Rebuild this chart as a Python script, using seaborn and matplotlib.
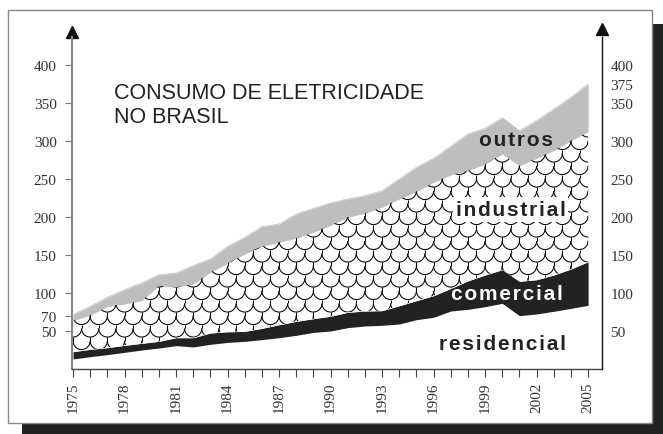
import numpy as np
import pandas as pd
import matplotlib
matplotlib.use("Agg")
import matplotlib.pyplot as plt
import seaborn as sns
from matplotlib.collections import LineCollection
from matplotlib.patches import Rectangle

# Consumo de eletricidade no Brasil (TWh)
anos = list(range(1975, 2006))
residencial = [13.2, 16.2, 18.9, 21.9, 25.0, 27.6, 30.7, 29.0, 32.5, 35.0,
               36.4, 38.6, 41.2, 44.3, 48.2, 50.0, 54.4, 56.6, 57.5, 59.2,
               64.9, 68.0, 76.3, 78.5, 82.0, 86.4, 70.2, 72.4, 75.9, 79.8, 83.8]
comercial = [9.6, 9.7, 9.2, 9.2, 8.8, 8.8, 10.5, 12.2, 14.9, 14.0,
             13.1, 14.9, 17.1, 18.4, 18.0, 19.5, 20.2, 19.7, 19.3, 24.1,
             25.0, 28.5, 29.7, 37.5, 41.7, 44.3, 45.2, 45.1, 47.8, 51.8, 57.4]
industrial = [40.8, 45.1, 53.9, 54.4, 56.1, 73.2, 66.3, 70.6, 79.8, 90.0,
              101.8, 107.9, 108.4, 109.3, 113.6, 119.5, 125.0, 128.7, 135.9, 140.4,
              143.4, 149.1, 149.3, 145.0, 146.0, 152.2, 152.1, 159.7, 163.6, 168.8, 171.1]
outros = [7.9, 11.5, 12.3, 18.9, 23.3, 14.5, 18.8, 24.2, 17.5, 22.4,
          21.9, 25.9, 24.1, 31.9, 31.6, 29.5, 24.1, 23.0, 21.9, 26.3,
          32.1, 31.6, 37.7, 48.2, 47.0, 47.8, 46.1, 49.6, 54.7, 57.1, 62.7]

ticks_esq = [50, 70, 100, 150, 200, 250, 300, 350, 400]
ticks_dir = [50, 100, 150, 200, 250, 300, 350, 375, 400]
anos_rotulo = list(range(1975, 2006, 3))

df = pd.DataFrame({"ano": anos, "residencial": residencial, "comercial": comercial,
                   "industrial": industrial, "outros": outros})
df["c1"] = df["residencial"]
df["c2"] = df["c1"] + df["comercial"]
df["c3"] = df["c2"] + df["industrial"]
df["c4"] = df["c3"] + df["outros"]

sns.set_theme(style="white")
plt.rcParams["font.family"] = ["Liberation Serif", "DejaVu Serif"]

preto = "#222222"
cinza = "#bebebe"

fig = plt.figure(figsize=(6.63, 4.35), dpi=100)
fig.patch.set_facecolor("white")
# sombra e moldura
fig.patches.append(Rectangle((22 / 663, 0), 1, 1 - 25 / 435, transform=fig.transFigure,
                             facecolor=preto, edgecolor="none", zorder=-3))
fig.patches.append(Rectangle((8 / 663, 11 / 435), 644 / 663, 413 / 435, transform=fig.transFigure,
                             facecolor="white", edgecolor="#888888", lw=1.0, zorder=-2))

ax = fig.add_axes([72 / 663, 1 - 370 / 435, 530 / 663, 332 / 435])
ax.patch.set_alpha(0)

ax.fill_between(df["ano"], df["c1"], df["c2"], facecolor=preto, lw=0, zorder=1)
poly = ax.fill_between(df["ano"], df["c2"], df["c3"], facecolor="white", lw=0, zorder=1)
ax.fill_between(df["ano"], df["c3"], df["c4"], facecolor=cinza, lw=0, zorder=1)
sns.lineplot(x=df["ano"], y=df["c4"], color=cinza, lw=0.5, ax=ax, zorder=1)

# padrao de escamas na area industrial
ry = 8.6 / 0.76
h = 12.5 / 0.76
t = np.linspace(0, np.pi, 24)
segs = []
for k in range(0, 24):
    yk = 4 + k * h
    off = 0.5 * (k % 2)
    for j in range(-2, 34):
        cx = 1974 + off + j + 0.5
        segs.append(np.column_stack([cx + 0.5 * np.cos(t), yk - ry * np.sin(t)]))
        xs = 1974 + off + j
        segs.append(np.array([[xs, yk], [xs, yk + h - ry]]))
lc = LineCollection(segs, colors="black", linewidths=0.75, zorder=2)
ax.add_collection(lc)
lc.set_clip_path(poly.get_paths()[0], poly.get_transform())

ax.set_xlim(1975 - 1 / 17.17, 1975 + 529 / 17.17)
ax.set_ylim(0, 332 / 0.76)

ax.set_xticks(anos)
ax.set_xticklabels([str(a) if a in anos_rotulo else "" for a in anos], rotation=90)
ax.set_yticks(ticks_esq)
ax.set_yticklabels([str(v) for v in ticks_esq])
ax.tick_params(axis="x", direction="out", length=6, width=0.8, color="#444444",
               labelsize=11, labelcolor="#333333", pad=3, bottom=True)
ax.tick_params(axis="y", direction="out", length=5, width=0.8, color="#777777",
               labelsize=11, labelcolor="#333333", pad=6, left=True)
ax.set_xlabel("")
ax.set_ylabel("")

ax2 = ax.twinx()
ax2.set_ylim(ax.get_ylim())
ax2.set_yticks(ticks_dir)
ax2.set_yticklabels([str(v) for v in ticks_dir])
ax2.tick_params(axis="y", direction="in", length=7, width=0.8, color="#555555",
                labelsize=11, labelcolor="#333333", pad=6, right=True)
ax2.set_ylabel("")

sns.despine(ax=ax, top=True, right=True)
sns.despine(ax=ax2, top=True, right=False, left=True, bottom=True)
ax.spines["left"].set_color("#888888")
ax.spines["left"].set_linewidth(1.5)
ax.spines["bottom"].set_color("#444444")
ax.spines["bottom"].set_linewidth(1.0)
ax2.spines["right"].set_color("#111111")
ax2.spines["right"].set_linewidth(1.0)

# setas no topo dos eixos
ax.plot([0], [1.015], marker="^", ms=8, color="#111111", transform=ax.transAxes, clip_on=False)
ax.plot([1], [1.025], marker="^", ms=8, color="#111111", transform=ax.transAxes, clip_on=False)

sans = ["Liberation Sans", "DejaVu Sans"]
ax.text(1975 + 41 / 17.17, (370 - 99) / 0.76, "CONSUMO DE ELETRICIDADE", family=sans,
        fontsize=15.5, color="#222222", va="baseline", ha="left")
ax.text(1975 + 41 / 17.17, (370 - 123) / 0.76, "NO BRASIL", family=sans,
        fontsize=15.5, color="#222222", va="baseline", ha="left")


def espacado(s):
    return "\u200a".join(s)


ax.text(2000.8, 302, espacado("outros"), family=sans, fontsize=15, weight="bold",
        color="#222222", ha="center", va="center", zorder=5)
ax.text(2000.5, 210, espacado("industrial"), family=sans, fontsize=15, weight="bold",
        color="#222222", ha="center", va="center", zorder=5,
        bbox=dict(facecolor="white", edgecolor="none", pad=2))
ax.text(2000.3, 99, espacado("comercial"), family=sans, fontsize=15, weight="bold",
        color="white", ha="center", va="center", zorder=5)
ax.text(2000.0, 34, espacado("residencial"), family=sans, fontsize=15, weight="bold",
        color="#222222", ha="center", va="center", zorder=5)

fig.savefig("out.png", dpi=100)
